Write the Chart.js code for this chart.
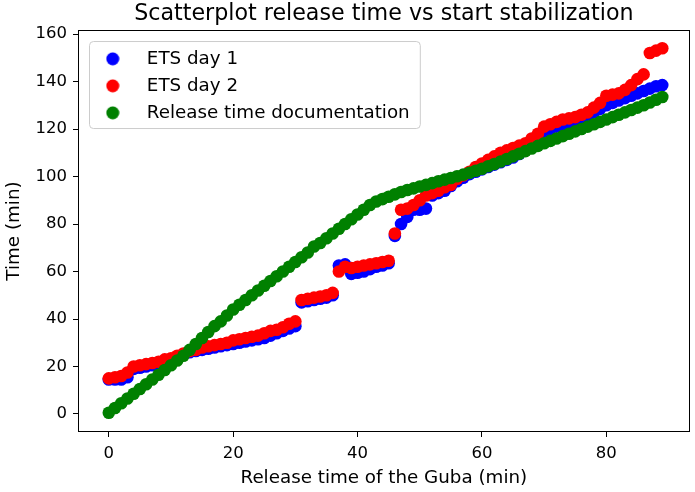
<!DOCTYPE html>
<html>
<head>
<meta charset="utf-8">
<script src="https://cdn.jsdelivr.net/npm/chart.js@4/dist/chart.umd.min.js"></script>
<style>
  html,body{margin:0;padding:0;background:#fff;}
  #wrap{width:695px;height:492px;}
</style>
</head>
<body>
<div id="wrap"><canvas id="chart" width="695" height="492"></canvas></div>
<script>
// release time of the Guba (min)
const releaseMin = [];
for (let i = 0; i < 90; i++) releaseMin.push(i);

const etsDay1 = [14.5,14.5,14.5,15.5,19,19.5,20,20.5,21,22,
  23,24,25,26,26.5,27,27.5,28,28.5,29,
  29.5,30,30.5,31,31.5,32,33,34,35,36,
  37,47,47.5,48,48.5,49,50,62.5,63,59,
  59.5,60,61,62,62.5,63.5,75,80,83,86,
  86,86.5,92,93,94,96,98,99.5,101,102,
  103,104,105,106,107,108,109.5,111.5,114,117,
  119,120,121,122,122.5,123.5,124.5,125.5,127,128.5,
  130,131,132,133,134,135,136,137,138,138.5];

const etsDay2 = [15,15.5,16,17.5,20,20.5,21,21.5,22,23,
  23.5,24.5,25.5,26.5,27,28,28.5,29,29.5,30,
  31,31.5,32,32.5,33,34,35,35.5,36.5,38,
  39,48,48.5,49,49.5,50,51,60,62,61.5,
  62,62.5,63,63.5,64,64.5,76,86,86.5,88,
  90,92,93,94,95.5,96.5,99,100.5,102,104,
  105.5,107,108.5,110,111,112,113,114,116,118,
  121,122,123,124,124.5,125,126,127,129,131,
  134,134.5,135,136.5,138.5,141,143,152,153,154];

const releaseDoc = [0.5,2.5,4.5,6.5,8.5,10.5,12.5,14.5,16.5,18.5,
  20.5,22.5,24.5,27,29.5,32,34.5,37,39,41.5,
  44,46,48,50,52,54,56,58,60,62,
  64,66,68,70.5,72,74,76,78,80,82,
  84,86,88,89.5,90.5,91.5,92.5,93.5,94.3,95,
  95.8,96.5,97.2,98,98.7,99.4,100.1,100.8,101.6,102.4,
  103.3,104.3,105.3,106.3,107.4,108.5,109.6,110.7,111.8,112.9,
  114,115,116,117,118,119,120,121,122,123,
  124,125,126,127,128,129,130,131.2,132.3,133.5];

const seriesNames = ['ETS day 1', 'ETS day 2', 'Release time documentation'];
const seriesColors = ['#0000ff', '#ff0000', '#008000'];
const xTicks = [0, 20, 40, 60, 80];
const yTicks = [0, 20, 40, 60, 80, 100, 120, 140, 160];

const FONT = '"DejaVu Sans", sans-serif';

function pts(ys){ return ys.map((y,i)=>({x: releaseMin[i], y})); }

// little round markers for the legend
const dots = seriesColors.map(c=>{
  const cv = document.createElement('canvas'); cv.width = 14; cv.height = 14;
  const g = cv.getContext('2d');
  g.fillStyle = c; g.beginPath(); g.arc(7,7,6.5,0,Math.PI*2); g.fill();
  return cv;
});

const framePlugin = {
  id: 'frame',
  beforeDraw(chart){
    // legend box (matplotlib style)
    const a = chart.chartArea, ctx = chart.ctx;
    ctx.save();
    ctx.font = '18.3px ' + FONT;
    const w = Math.max(...seriesNames.map(t=>ctx.measureText(t).width));
    const x0 = a.left + 10.5, y0 = a.top + 10.5, x1 = a.left + 68 + w + 10.5, y1 = a.top + 97.5;
    ctx.beginPath();
    ctx.roundRect(x0, y0, x1-x0, y1-y0, 4);
    ctx.fillStyle = 'rgba(255,255,255,0.8)';
    ctx.fill();
    ctx.strokeStyle = '#cccccc'; ctx.lineWidth = 1;
    ctx.stroke();
    ctx.restore();
  },
  afterDatasetsDraw(chart){
    const a = chart.chartArea, ctx = chart.ctx;
    ctx.save();
    ctx.strokeStyle = '#000'; ctx.lineWidth = 1;
    ctx.strokeRect(Math.round(a.left)-0.5, Math.round(a.top)-0.5, Math.round(a.right-a.left)+1, Math.round(a.bottom-a.top)+1);
    ctx.restore();
  }
};

new Chart(document.getElementById('chart'), {
  type: 'scatter',
  data: {
    datasets: [
      { label: seriesNames[0], data: pts(etsDay1), backgroundColor: seriesColors[0], order: 3 },
      { label: seriesNames[1], data: pts(etsDay2), backgroundColor: seriesColors[1], order: 2 },
      { label: seriesNames[2], data: pts(releaseDoc), backgroundColor: seriesColors[2], order: 1 }
    ]
  },
  options: {
    responsive: false,
    animation: false,
    events: [],
    layout: { padding: { right: 2 } },
    elements: { point: { radius: 6.3, borderWidth: 0, hoverRadius: 6.3 } },
    plugins: {
      title: {
        display: true, fullSize: false,
        text: 'Scatterplot release time vs start stabilization',
        color: '#000', font: { family: FONT, size: 22.2, weight: 'normal', lineHeight: 1.2 },
        padding: { top: 1, bottom: 3.4 }
      },
      legend: {
        position: 'chartArea', align: 'start',
        // empty title only pushes the rows down inside the plot area
        title: { display: true, text: ' ', font: { size: 10, lineHeight: 1 }, padding: { top: 31, bottom: 0 } },
        labels: {
          color: '#000', font: { family: FONT, size: 18.3 },
          usePointStyle: true, pointStyleWidth: 50, padding: 8.7,
          generateLabels(chart){
            const items = Chart.defaults.plugins.legend.labels.generateLabels(chart);
            items.sort((a,b)=>a.datasetIndex-b.datasetIndex);
            items.forEach(it=>{ it.pointStyle = dots[it.datasetIndex]; });
            return items;
          }
        }
      },
      tooltip: { enabled: false }
    },
    scales: {
      x: {
        type: 'linear', min: -4.79, max: 93.25,
        afterBuildTicks(s){ s.ticks = xTicks.map(v=>({value: v})); },
        afterFit(s){ s.height = 61; },
        grid: { drawOnChartArea: false, tickLength: 6, tickColor: '#000' },
        border: { display: false },
        ticks: { color: '#000', font: { family: FONT, size: 16.5 }, padding: 7, maxRotation: 0 },
        title: { display: true, text: 'Release time of the Guba (min)', color: '#000',
          font: { family: FONT, size: 18.3, lineHeight: 1.2 }, padding: { top: 0, bottom: 3 } }
      },
      y: {
        type: 'linear', min: -7.16, max: 161.26,
        afterBuildTicks(s){ s.ticks = yTicks.map(v=>({value: v})); },
        afterFit(s){ s.width = 79; },
        grid: { drawOnChartArea: false, tickLength: 6, tickColor: '#000' },
        border: { display: false },
        ticks: { color: '#000', font: { family: FONT, size: 16.5 }, padding: 6 },
        title: { display: true, text: 'Time (min)', color: '#000',
          font: { family: FONT, size: 18.3, lineHeight: 1.2 }, padding: { top: 3, bottom: 0 } }
      }
    }
  },
  plugins: [framePlugin]
});
</script>
</body>
</html>
